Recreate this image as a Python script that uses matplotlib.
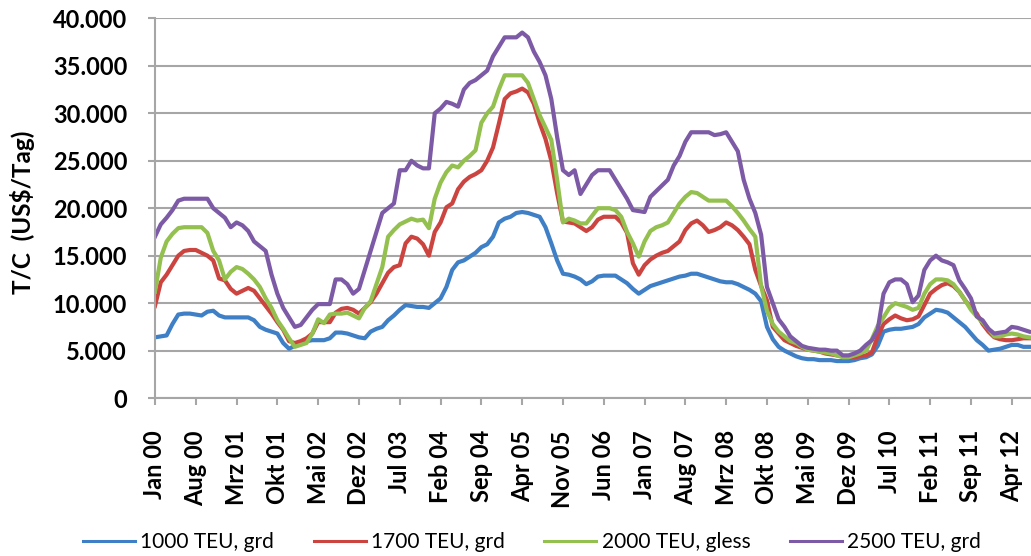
import matplotlib.pyplot as plt
import numpy as np

# monthly T/C rates, Jan 2000 .. Jul 2012 (US$/Tag)
teu1000 = [6400, 6500, 6600, 7800, 8800, 8900, 8900, 8800, 8700, 9100, 9200, 8700,
           8500, 8500, 8500, 8500, 8500, 8200, 7500, 7200, 7000, 6800, 5800, 5200,
           5500, 5900, 6000, 6100, 6100, 6100, 6300, 6900, 6900, 6800, 6600, 6400,
           6300, 7000, 7300, 7500, 8200, 8700, 9300, 9800, 9700, 9600, 9600, 9500,
           10000, 10500, 11700, 13500, 14300, 14500, 14900, 15300, 15900, 16200, 17000, 18500,
           18900, 19100, 19500, 19600, 19500, 19300, 19100, 18000, 16300, 14500, 13100, 13000,
           12800, 12500, 12000, 12300, 12800, 12900, 12900, 12900, 12500, 12100, 11500, 11000,
           11400, 11800, 12000, 12200, 12400, 12600, 12800, 12900, 13100, 13100, 12900, 12700,
           12500, 12300, 12200, 12200, 12000, 11700, 11400, 11000, 10200, 7500, 6200, 5400,
           5000, 4700, 4400, 4200, 4100, 4100, 4000, 4000, 4000, 3900, 3900, 3900,
           4000, 4200, 4300, 4600, 5500, 7000, 7200, 7300, 7300, 7400, 7500, 7800,
           8500, 8900, 9300, 9200, 9000, 8500, 8000, 7500, 6800, 6100, 5600, 5000,
           5100, 5200, 5400, 5600, 5600, 5400, 5400]

teu1700 = [9700, 12200, 13000, 14000, 15000, 15500, 15600, 15600, 15300, 15000, 14500, 12600,
           12400, 11500, 11000, 11300, 11600, 11300, 10500, 9700, 8900, 8000, 7200, 6000,
           5800, 6000, 6300, 6800, 8000, 8000, 8000, 9000, 9400, 9500, 9300, 8900,
           9500, 10100, 11000, 12100, 13200, 13800, 14000, 16300, 17000, 16800, 16200, 15000,
           17500, 18500, 20100, 20500, 22000, 22800, 23300, 23600, 24000, 25000, 26400, 28900,
           31500, 32100, 32300, 32600, 32200, 31000, 29000, 27300, 25000, 21600, 18600, 18500,
           18400, 18000, 17600, 18000, 18800, 19100, 19100, 19100, 18500, 17400, 14200, 13000,
           14000, 14600, 15000, 15300, 15500, 16000, 16500, 17700, 18400, 18700, 18200, 17500,
           17700, 18000, 18500, 18200, 17700, 17000, 16200, 13500, 11800, 10300, 7500, 6800,
           6100, 5800, 5500, 5300, 5100, 5000, 4900, 4700, 4600, 4500, 4400, 4300,
           4300, 4400, 4500, 4800, 6500, 7800, 8300, 8700, 8400, 8200, 8300, 8600,
           9800, 11000, 11500, 11900, 12100, 11800, 11200, 10300, 9500, 8900, 7800, 7000,
           6400, 6200, 6100, 6100, 6200, 6300, 6300]

teu2000 = [11200, 14800, 16500, 17300, 17900, 18000, 18000, 18000, 18000, 17400, 15500, 14500,
           12500, 13300, 13800, 13600, 13100, 12500, 11700, 10500, 9500, 8200, 7300, 6300,
           5400, 5600, 5800, 6800, 8300, 7900, 8800, 8900, 8900, 9000, 8700, 8400,
           9500, 10200, 12000, 13800, 17000, 17700, 18300, 18600, 18900, 18700, 18800, 17900,
           21000, 22700, 23800, 24500, 24300, 25000, 25500, 26100, 29000, 30000, 30700, 32500,
           34000, 34000, 34000, 34000, 33200, 31500, 29800, 28500, 27200, 23000, 18500, 18900,
           18700, 18400, 18400, 19200, 20000, 20000, 20000, 19800, 19100, 17500, 16300, 14900,
           16500, 17600, 18000, 18200, 18500, 19500, 20500, 21200, 21700, 21600, 21200, 20800,
           20800, 20800, 20800, 20200, 19500, 18700, 17800, 17000, 11800, 9200, 7800, 7000,
           6500, 6000, 5800, 5400, 5100, 5000, 4900, 4800, 4700, 4500, 4300, 4300,
           4500, 4700, 5000, 6200, 7600, 8500, 9500, 10000, 9800, 9600, 9300, 9500,
           11000, 12000, 12500, 12500, 12400, 12000, 11200, 10300, 9300, 8600, 8000, 7300,
           6500, 6500, 6700, 6800, 6700, 6500, 6400]

teu2500 = [17000, 18300, 19000, 19800, 20800, 21000, 21000, 21000, 21000, 21000, 20000, 19500,
           19000, 18000, 18500, 18200, 17600, 16500, 16000, 15500, 13000, 11000, 9500, 8500,
           7500, 7700, 8500, 9300, 9900, 9900, 9900, 12500, 12500, 12000, 11000, 11500,
           13500, 15500, 17500, 19500, 20000, 20500, 24000, 24000, 25000, 24500, 24200, 24200,
           30000, 30500, 31200, 31000, 30700, 32500, 33200, 33500, 34000, 34500, 36000, 37000,
           38000, 38000, 38000, 38500, 38000, 36500, 35400, 34000, 31500, 27500, 24000, 23500,
           24000, 21500, 22500, 23500, 24000, 24000, 24000, 23000, 22000, 21000, 19800, 19700,
           19600, 21200, 21800, 22400, 23000, 24500, 25500, 27000, 28000, 28000, 28000, 28000,
           27700, 27800, 28000, 27000, 26000, 23000, 21000, 19500, 17200, 11700, 10000, 8300,
           7500, 6500, 6000, 5500, 5300, 5200, 5100, 5100, 5000, 5000, 4500, 4500,
           4700, 5000, 5600, 6100, 7200, 11000, 12200, 12500, 12500, 12000, 10100, 10800,
           13500, 14500, 15000, 14500, 14300, 14000, 12400, 11500, 10500, 8600, 8200, 7300,
           6800, 6900, 7000, 7500, 7400, 7200, 7000]

tick_labels = ['Jan 00', 'Aug 00', 'Mrz 01', 'Okt 01', 'Mai 02', 'Dez 02', 'Jul 03',
               'Feb 04', 'Sep 04', 'Apr 05', 'Nov 05', 'Jun 06', 'Jan 07', 'Aug 07',
               'Mrz 08', 'Okt 08', 'Mai 09', 'Dez 09', 'Jul 10', 'Feb 11', 'Sep 11', 'Apr 12']

series = [('1000 TEU, grd', teu1000, '#3f7fc6'),
          ('1700 TEU, grd', teu1700, '#cc4440'),
          ('2000 TEU, gless', teu2000, '#93c04e'),
          ('2500 TEU, grd', teu2500, '#7d5aa6')]

plt.rcParams['font.family'] = ['Lato', 'DejaVu Sans']

fig = plt.figure(figsize=(10.31, 5.56), dpi=100)
ax = fig.add_axes([0.1503, 0.284, 0.8497, 0.683])

x = np.arange(len(teu1000))
for name, vals, col in series:
    ax.plot(x, vals, color=col, lw=3, label=name, solid_joinstyle='round')

ax.set_xlim(0, 150.3)
ax.set_ylim(0, 40000)
ax.set_yticks(np.arange(0, 40001, 5000))
ax.set_yticklabels(['0' if v == 0 else '{:,}'.format(v).replace(',', '.')
                    for v in range(0, 40001, 5000)], fontsize=17, fontweight='bold')
ax.set_xticks(np.arange(0, len(tick_labels) * 7, 7))
ax.set_xticklabels(tick_labels, rotation=90, fontsize=17, fontweight='bold')
ax.grid(axis='y', color='#a6a6a6', lw=1.5)
ax.set_axisbelow(True)
for s in ['top', 'right']:
    ax.spines[s].set_visible(False)
for s in ['left', 'bottom']:
    ax.spines[s].set_color('#a6a6a6')
    ax.spines[s].set_linewidth(1.5)
ax.tick_params(axis='both', colors='#a6a6a6', length=5, width=1.5, labelcolor='black')
ax.tick_params(axis='x', pad=18)
ax.tick_params(axis='y', pad=15)

ax.set_ylabel('T/C  (US$/Tag)', fontsize=17.5, fontweight='bold')
ax.yaxis.set_label_coords(-0.137, 0.49)

leg = fig.legend(loc='center', bbox_to_anchor=(0.516, 0.025), ncol=4, frameon=False,
                 fontsize=15, handlelength=2.5, columnspacing=1.9, handletextpad=0.25)
for h in leg.get_lines():
    h.set_linewidth(2.2)

fig.savefig('out.png', dpi=100)
